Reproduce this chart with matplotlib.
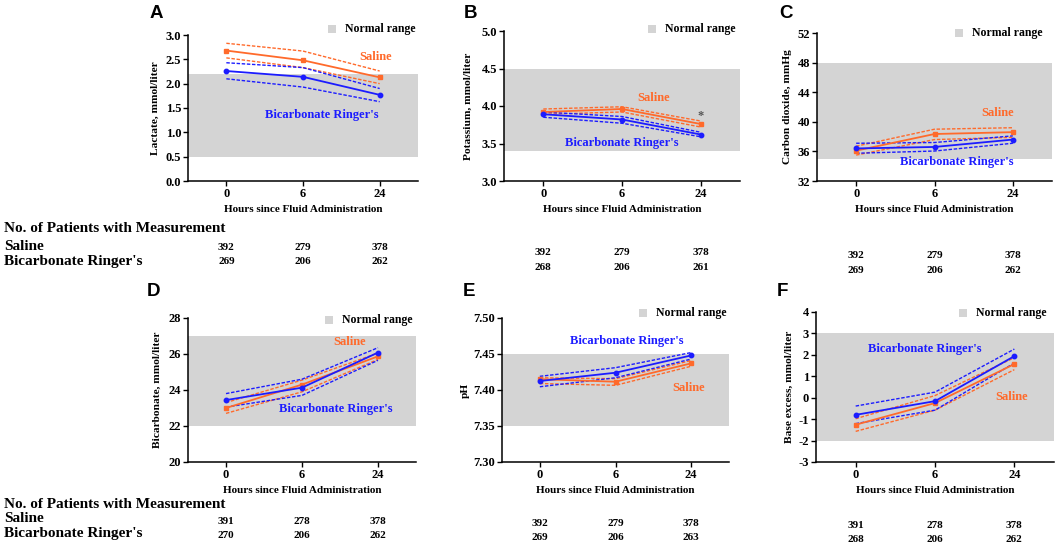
import matplotlib
matplotlib.use("Agg")
import matplotlib.pyplot as plt
import matplotlib.transforms as mtrans
from matplotlib.patches import Rectangle
import numpy as np

W, H = 1059, 550
hours = ["0", "6", "24"]

# ---------------- data ----------------
# A: Lactate
lac_sal = [2.68, 2.48, 2.13]
lac_sal_hi = [2.83, 2.67, 2.26]
lac_sal_lo = [2.53, 2.33, 2.00]
lac_bic = [2.26, 2.14, 1.77]
lac_bic_hi = [2.43, 2.33, 1.90]
lac_bic_lo = [2.10, 1.93, 1.63]
lac_norm = [0.5, 2.2]
# B: Potassium
pot_sal = [3.92, 3.96, 3.76]
pot_sal_hi = [3.96, 3.99, 3.80]
pot_sal_lo = [3.89, 3.92, 3.72]
pot_bic = [3.89, 3.82, 3.62]
pot_bic_hi = [3.92, 3.86, 3.65]
pot_bic_lo = [3.85, 3.77, 3.59]
pot_norm = [3.4, 4.5]
# C: Carbon dioxide
co2_sal = [36.1, 38.35, 38.6]
co2_sal_hi = [36.7, 39.0, 39.2]
co2_sal_lo = [35.5, 37.6, 37.9]
co2_bic = [36.4, 36.6, 37.6]
co2_bic_hi = [37.1, 37.2, 38.1]
co2_bic_lo = [35.75, 36.05, 37.1]
co2_norm = [35, 48]
# D: Bicarbonate
hco_sal = [23.0, 24.3, 25.87]
hco_sal_hi = [23.3, 24.55, 26.05]
hco_sal_lo = [22.7, 23.9, 25.7]
hco_bic = [23.44, 24.13, 26.08]
hco_bic_hi = [23.8, 24.6, 26.35]
hco_bic_lo = [23.05, 23.7, 25.65]
hco_norm = [22, 27]
# E: pH
ph_sal = [7.415, 7.4115, 7.437]
ph_sal_hi = [7.417, 7.4157, 7.441]
ph_sal_lo = [7.409, 7.4065, 7.433]
ph_bic = [7.4125, 7.424, 7.448]
ph_bic_hi = [7.419, 7.431, 7.452]
ph_bic_lo = [7.4045, 7.417, 7.443]
ph_norm = [7.35, 7.45]
# F: Base excess
be_sal = [-1.26, -0.25, 1.57]
be_sal_hi = [-0.98, 0.10, 1.87]
be_sal_lo = [-1.57, -0.58, 1.31]
be_bic = [-0.80, -0.16, 1.94]
be_bic_hi = [-0.39, 0.26, 2.27]
be_bic_lo = [-1.21, -0.58, 1.62]
be_norm = [-2, 3]

# patient counts
n_A_sal = [392, 279, 378]; n_A_bic = [269, 206, 262]
n_B_sal = [392, 279, 378]; n_B_bic = [268, 206, 261]
n_C_sal = [392, 279, 378]; n_C_bic = [269, 206, 262]
n_D_sal = [391, 278, 378]; n_D_bic = [270, 206, 262]
n_E_sal = [392, 279, 378]; n_E_bic = [269, 206, 263]
n_F_sal = [391, 278, 378]; n_F_bic = [268, 206, 262]

ylabels = ["Lactate, mmol/liter", "Potassium, mmol/liter", "Carbon dioxide, mmHg",
           "Bicarbonate, mmol/liter", "pH", "Base excess, mmol/liter"]
panel_letters = ["A", "B", "C", "D", "E", "F"]

# ---------------- style ----------------
ORANGE = "#FF6A2B"
BLUE = "#1C1CFF"
GRAY = "#D4D4D4"
SERIF = ["Liberation Serif", "DejaVu Serif"]
SANS = ["Liberation Sans", "DejaVu Sans"]

fig = plt.figure(figsize=(W / 100, H / 100), dpi=100)


def px_axes(l, r, t, b):
    return fig.add_axes([l / W, 1 - b / H, (r - l) / W, (b - t) / H])


def fx(x):
    return x / W


def fy(y):
    return 1 - y / H


panels = [
    dict(box=(188, 418, 35, 181), sal=(lac_sal, lac_sal_hi, lac_sal_lo), bic=(lac_bic, lac_bic_hi, lac_bic_lo),
         norm=lac_norm, yt=np.arange(0, 3.01, 0.5), fmt="{:.1f}", ylab_x=160, letter=(150, 14), leg=(332, 29),
         sal_txt=(1.95, 2.55), bic_txt=(1.25, 1.36)),
    dict(box=(504, 740, 31, 181), sal=(pot_sal, pot_sal_hi, pot_sal_lo), bic=(pot_bic, pot_bic_hi, pot_bic_lo),
         norm=pot_norm, yt=np.arange(3.0, 5.01, 0.5), fmt="{:.1f}", ylab_x=473, letter=(464, 14), leg=(652, 29),
         sal_txt=(1.4, 4.11), bic_txt=(1.0, 3.51)),
    dict(box=(817, 1052, 33, 181), sal=(co2_sal, co2_sal_hi, co2_sal_lo), bic=(co2_bic, co2_bic_hi, co2_bic_lo),
         norm=co2_norm, yt=np.arange(32, 52.1, 4), fmt="{:.0f}", ylab_x=792, letter=(779, 14), leg=(959, 33),
         sal_txt=(1.8, 41.2), bic_txt=(1.28, 34.6)),
    dict(box=(188, 416, 318, 462), sal=(hco_sal, hco_sal_hi, hco_sal_lo), bic=(hco_bic, hco_bic_hi, hco_bic_lo),
         norm=hco_norm, yt=np.arange(20, 28.1, 2), fmt="{:.0f}", ylab_x=162, letter=(147, 291), leg=(329, 320),
         sal_txt=(1.63, 26.65), bic_txt=(1.45, 22.93)),
    dict(box=(502, 729, 318, 462), sal=(ph_sal, ph_sal_hi, ph_sal_lo), bic=(ph_bic, ph_bic_hi, ph_bic_lo),
         norm=ph_norm, yt=np.arange(7.30, 7.501, 0.05), fmt="{:.2f}", ylab_x=470, letter=(463, 291), leg=(643, 313),
         sal_txt=(1.97, 7.403), bic_txt=(1.15, 7.4675)),
    dict(box=(816, 1054, 312, 462), sal=(be_sal, be_sal_hi, be_sal_lo), bic=(be_bic, be_bic_hi, be_bic_lo),
         norm=be_norm, yt=np.arange(-3, 4.1, 1), fmt="{:.0f}", ylab_x=794, letter=(777, 291), leg=(963, 313),
         sal_txt=(1.96, 0.03), bic_txt=(0.87, 2.26)),
]

counts = [(n_A_sal, n_A_bic), (n_B_sal, n_B_bic), (n_C_sal, n_C_bic),
          (n_D_sal, n_D_bic), (n_E_sal, n_E_bic), (n_F_sal, n_F_bic)]
count_rows_y = [(247, 262), (252, 267), (255, 270), (521, 536), (523, 538), (525, 540)]

axes = []
for i, p in enumerate(panels):
    l, r, t, b = p["box"]
    ax = px_axes(l, r, t, b)
    axes.append(ax)
    x = np.arange(len(hours))
    ax.axhspan(p["norm"][0], p["norm"][1], color=GRAY, zorder=0, lw=0)
    for (m, hi, lo), col, mk in [(p["sal"], ORANGE, "s"), (p["bic"], BLUE, "o")]:
        ax.plot(x, hi, color=col, lw=1.0, ls=(0, (2.5, 1.2)), zorder=2)
        ax.plot(x, lo, color=col, lw=1.0, ls=(0, (2.5, 1.2)), zorder=2)
        ax.plot(x, m, color=col, lw=1.3, marker=mk, ms=3.2, zorder=3)
    ax.set_xlim(-0.5, 2.5)
    ax.set_ylim(p["yt"][0], p["yt"][-1])
    ax.set_xticks(x)
    ax.set_xticklabels(hours)
    ax.set_yticks(p["yt"])
    ax.set_yticklabels([p["fmt"].format(v) for v in p["yt"]])
    for s in ["top", "right"]:
        ax.spines[s].set_visible(False)
    for s in ["left", "bottom"]:
        ax.spines[s].set_linewidth(1.1)
    ax.tick_params(axis="both", length=3.5, width=1.0, pad=1.5, labelsize=9)
    for lab in ax.get_xticklabels() + ax.get_yticklabels():
        lab.set_fontfamily(SERIF)
        lab.set_fontweight("bold")
    ax.set_ylabel(ylabels[i], fontsize=8.2, fontweight="bold", family=SERIF)
    ax.yaxis.set_label_coords((p["ylab_x"] - l) / (r - l), 0.5)
    ax.set_xlabel("Hours since Fluid Administration", fontsize=8, fontweight="bold", family=SERIF)
    ax.xaxis.set_label_coords(0.5, -24 / (b - t))
    # annotations
    ax.text(p["sal_txt"][0], p["sal_txt"][1], "Saline", color=ORANGE, fontsize=9, fontweight="bold",
            family=SERIF, ha="center", va="center")
    ax.text(p["bic_txt"][0], p["bic_txt"][1], "Bicarbonate Ringer's", color=BLUE, fontsize=9,
            fontweight="bold", family=SERIF, ha="center", va="center")
    # panel letter
    fig.text(fx(p["letter"][0]), fy(p["letter"][1]), panel_letters[i], fontsize=13.5, fontweight="bold",
             family=SANS, ha="left", va="center")
    # legend
    sx, sy = p["leg"]
    fig.patches.append(Rectangle((fx(sx - 4), fy(sy + 4)), 8 / W, 8 / H, transform=fig.transFigure,
                                 facecolor=GRAY, edgecolor="none"))
    fig.text(fx(sx + 13), fy(sy), "Normal range", fontsize=8.5, fontweight="bold", family=SERIF,
             ha="left", va="center")
    # counts
    tr = mtrans.blended_transform_factory(ax.transData, fig.transFigure)
    ns, nb = counts[i]
    ys, yb = count_rows_y[i]
    for j in range(len(hours)):
        fig.text(j, fy(ys), str(ns[j]), transform=tr, fontsize=8, fontweight="bold", family=SERIF,
                 ha="center", va="center")
        fig.text(j, fy(yb), str(nb[j]), transform=tr, fontsize=8, fontweight="bold", family=SERIF,
                 ha="center", va="center")

# asterisk in B
axes[1].text(2.0, 3.87, "*", color="#555555", fontsize=9, fontweight="bold", family=SERIF,
             ha="center", va="center")

# table row headers
HDR = 11
for y0 in (229, 504):
    fig.text(fx(4), fy(y0), "No. of Patients with Measurement", fontsize=HDR, fontweight="bold",
             family=SERIF, ha="left", va="center")
for y0 in (247, 519):
    fig.text(fx(4), fy(y0), "Saline", fontsize=HDR, fontweight="bold", family=SERIF, ha="left", va="center")
for y0 in (262, 533):
    fig.text(fx(4), fy(y0), "Bicarbonate Ringer's", fontsize=HDR, fontweight="bold", family=SERIF,
             ha="left", va="center")

fig.savefig("out.png", dpi=100)
